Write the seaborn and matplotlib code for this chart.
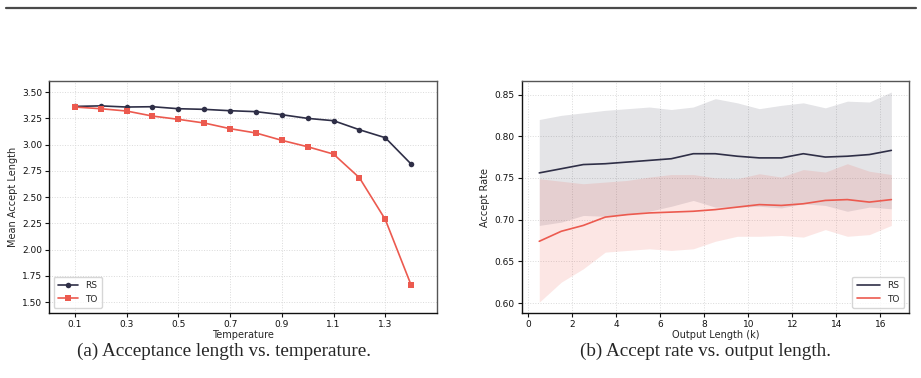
import numpy as np
import pandas as pd
import matplotlib
matplotlib.use("Agg")
import matplotlib.pyplot as plt
from matplotlib.lines import Line2D
import seaborn as sns

# --- data ---
temperature = [0.1, 0.2, 0.3, 0.4, 0.5, 0.6, 0.7, 0.8, 0.9, 1.0, 1.1, 1.2, 1.3, 1.4]
rs_accept_len = [3.363, 3.368, 3.357, 3.360, 3.341, 3.335, 3.322, 3.313, 3.284,
                 3.249, 3.227, 3.141, 3.065, 2.814]
to_accept_len = [3.357, 3.341, 3.319, 3.271, 3.240, 3.205, 3.151, 3.110, 3.040,
                 2.979, 2.909, 2.684, 2.287, 1.662]

out_len_k = [0.5, 1.5, 2.5, 3.5, 4.5, 5.5, 6.5, 7.5, 8.5, 9.5, 10.5, 11.5, 12.5,
             13.5, 14.5, 15.5, 16.5]
rs_rate = [0.756, 0.761, 0.766, 0.767, 0.769, 0.771, 0.773, 0.779, 0.779, 0.776,
           0.774, 0.774, 0.779, 0.775, 0.776, 0.778, 0.783]
rs_rate_hi = [0.820, 0.825, 0.828, 0.831, 0.833, 0.835, 0.832, 0.835, 0.845, 0.840,
              0.833, 0.837, 0.840, 0.834, 0.842, 0.841, 0.853]
rs_rate_lo = [0.693, 0.697, 0.705, 0.704, 0.706, 0.710, 0.716, 0.723, 0.715, 0.715,
              0.716, 0.714, 0.719, 0.717, 0.710, 0.715, 0.713]
to_rate = [0.674, 0.686, 0.693, 0.703, 0.706, 0.708, 0.709, 0.710, 0.712, 0.715,
           0.718, 0.717, 0.719, 0.723, 0.724, 0.721, 0.724]
to_rate_hi = [0.749, 0.746, 0.743, 0.745, 0.747, 0.751, 0.754, 0.754, 0.750, 0.749,
              0.755, 0.751, 0.760, 0.757, 0.767, 0.758, 0.754]
to_rate_lo = [0.601, 0.625, 0.641, 0.661, 0.663, 0.665, 0.663, 0.665, 0.674, 0.680,
              0.680, 0.681, 0.679, 0.688, 0.680, 0.682, 0.693]

methods = ["RS", "TO"]
temp_ticks = [0.1, 0.3, 0.5, 0.7, 0.9, 1.1, 1.3]

RS_COLOR = "#2f2f47"
TO_COLOR = "#ec5a4f"
palette = {"RS": RS_COLOR, "TO": TO_COLOR}

sns.set_theme(style="white")
plt.rcParams["font.family"] = ["DejaVu Sans"]

df_len = pd.DataFrame({
    "Temperature": temperature * 2,
    "Mean Accept Length": rs_accept_len + to_accept_len,
    "method": ["RS"] * len(temperature) + ["TO"] * len(temperature),
})
df_rate = pd.DataFrame({
    "Output Length (k)": out_len_k * 2,
    "Accept Rate": rs_rate + to_rate,
    "method": ["RS"] * len(out_len_k) + ["TO"] * len(out_len_k),
})

fig = plt.figure(figsize=(9.21, 3.78), dpi=100)
ax1 = fig.add_axes([0.0532, 0.1728, 0.4213, 0.6116])
ax2 = fig.add_axes([0.5664, 0.1728, 0.4205, 0.6116])


def style_axes(ax):
    ax.grid(True, linestyle=":", color="#dadada", linewidth=0.7)
    ax.set_axisbelow(True)
    for side in ["left", "bottom"]:
        ax.spines[side].set_color("#111111")
        ax.spines[side].set_linewidth(1.0)
    for side in ["top", "right"]:
        ax.spines[side].set_color("#555555")
        ax.spines[side].set_linewidth(1.0)
    ax.tick_params(axis="both", which="major", labelsize=6.5, length=3, width=0.8,
                   direction="out", bottom=True, left=True, pad=2, colors="#111111")
    ax.xaxis.label.set_size(7)
    ax.yaxis.label.set_size(7)


# (a) acceptance length vs temperature
sns.lineplot(data=df_len, x="Temperature", y="Mean Accept Length", hue="method",
             style="method", markers={"RS": "o", "TO": "s"}, dashes=False,
             palette=palette, markersize=4, linewidth=1.2, markeredgewidth=0,
             ax=ax1)
ax1.set_xlim(0.0, 1.5)
ax1.set_ylim(1.4, 3.6)
ax1.set_xticks(temp_ticks)
ax1.set_xticklabels([f"{t:.1f}" for t in temp_ticks])
ax1.set_yticks(np.arange(1.5, 3.51, 0.25))
ax1.yaxis.set_major_formatter(matplotlib.ticker.FormatStrFormatter("%.2f"))
style_axes(ax1)
ax1.set_xlabel("Temperature", labelpad=1)
ax1.set_ylabel("Mean Accept Length", labelpad=3)
ax1.legend(loc="lower left", fontsize=6.5, frameon=True, handlelength=2.2,
           borderpad=0.5, labelspacing=0.5, edgecolor="#cccccc", fancybox=True)

# (b) accept rate vs output length
ax2.fill_between(out_len_k, rs_rate_lo, rs_rate_hi, color=RS_COLOR, alpha=0.13,
                 linewidth=0)
ax2.fill_between(out_len_k, to_rate_lo, to_rate_hi, color=TO_COLOR, alpha=0.15,
                 linewidth=0)
sns.lineplot(data=df_rate, x="Output Length (k)", y="Accept Rate", hue="method",
             palette=palette, linewidth=1.2, ax=ax2)
ax2.set_xticks(range(0, 17, 2))
ax2.set_yticks([0.60, 0.65, 0.70, 0.75, 0.80, 0.85])
ax2.yaxis.set_major_formatter(matplotlib.ticker.FormatStrFormatter("%.2f"))
ax2.margins(x=0.05, y=0.05)
style_axes(ax2)
ax2.set_xlabel("Output Length (k)", labelpad=1)
ax2.set_ylabel("Accept Rate", labelpad=3)
ax2.legend(loc="lower right", fontsize=6.5, frameon=True, handlelength=2.6,
           borderpad=0.5, labelspacing=0.5, edgecolor="#cccccc", fancybox=True)

# page rule and captions
fig.add_artist(Line2D([0.007, 0.995], [1 - 7.5 / 378, 1 - 7.5 / 378],
                      color="#4a4a4a", linewidth=1.6, transform=fig.transFigure))
fig.text(0.243, 0.071, "(a) Acceptance length vs. temperature.", ha="center",
         va="center", fontsize=13.8, family=["Liberation Serif"])
fig.text(0.766, 0.071, "(b) Accept rate vs. output length.", ha="center",
         va="center", fontsize=13.8, family=["Liberation Serif"])

fig.savefig("out.png", dpi=100)
